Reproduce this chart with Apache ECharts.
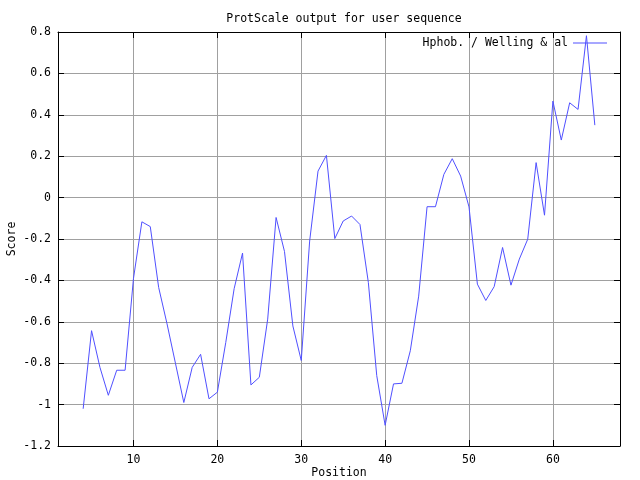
<!DOCTYPE html>
<html>
<head>
<meta charset="utf-8">
<script src="https://cdn.jsdelivr.net/npm/echarts@6/dist/echarts.min.js"></script>
<style>html,body{margin:0;padding:0;background:#fff}#c{width:640px;height:480px}</style>
</head>
<body>
<div id="c"></div>
<script>
var titleText = 'ProtScale output for user sequence';
var seriesName = 'Hphob. / Welling & al';
var xName = 'Position';
var yName = 'Score';
var positions = [4,5,6,7,8,9,10,11,12,13,14,15,16,17,18,19,20,21,22,23,24,25,26,27,28,29,30,31,32,33,34,35,36,37,38,39,40,41,42,43,44,45,46,47,48,49,50,51,52,53,54,55,56,57,58,59,60,61,62,63,64,65];
var scores = [-1.02,-0.643,-0.82,-0.955,-0.834,-0.834,-0.39,-0.117,-0.14,-0.434,-0.61,-0.80,-0.99,-0.82,-0.757,-0.972,-0.94,-0.70,-0.44,-0.268,-0.905,-0.868,-0.587,-0.096,-0.26,-0.62,-0.787,-0.21,0.128,0.204,-0.198,-0.113,-0.089,-0.13,-0.41,-0.86,-1.10,-0.90,-0.897,-0.74,-0.476,-0.044,-0.044,0.112,0.188,0.104,-0.045,-0.418,-0.497,-0.43,-0.241,-0.423,-0.297,-0.201,0.169,-0.085,0.466,0.278,0.458,0.426,0.782,0.35];
var xMin = 1, xMax = 68;
var yMin = -1.2, yMax = 0.8, yStep = 0.2;

var FONT = 'DejaVu Sans Mono';
var FS = 11.5;
var data = positions.map(function (p, i) { return [p, scores[i]]; });

var chart = echarts.init(document.getElementById('c'), null, {renderer: 'canvas'});
var xLabelFmt = function (v) { return (Math.abs(v % 10) < 1e-9) ? String(v) : ''; };
chart.setOption({
  animation: false,
  backgroundColor: '#ffffff',
  textStyle: {fontFamily: FONT, fontSize: FS, color: '#000'},
  title: {
    text: titleText, left: 339, top: 8, textAlign: 'center',
    textStyle: {fontFamily: FONT, fontSize: FS, fontWeight: 'normal', color: '#000'}
  },
  legend: {
    data: [{name: seriesName, icon: 'rect'}], right: 33, top: 37, align: 'right',
    itemWidth: 34, itemHeight: 1, padding: 0,
    textStyle: {fontFamily: FONT, fontSize: FS, color: '#000'}
  },
  grid: {left: 58, right: 20, top: 32, bottom: 34, containLabel: false, outerBoundsMode: 'none', show: false},
  xAxis: [{
    type: 'value', min: xMin, max: xMax, position: 'bottom',
    name: xName, nameLocation: 'middle', nameGap: 21, nameMoveOverlap: false,
    nameTextStyle: {fontFamily: FONT, fontSize: FS, color: '#000'},
    axisLine: {show: true, onZero: false, lineStyle: {color: '#000', width: 1}},
    axisTick: {show: true, inside: true, length: 6, lineStyle: {color: '#000'}},
    axisLabel: {show: true, margin: 8, color: '#000', fontFamily: FONT, fontSize: FS, formatter: xLabelFmt, showMinLabel: true, showMaxLabel: true},
    splitLine: {show: true, lineStyle: {color: '#a0a0a0', width: 1}}
  }, {
    type: 'value', min: xMin, max: xMax, position: 'top',
    axisLine: {show: true, onZero: false, lineStyle: {color: '#000', width: 1}},
    axisTick: {show: true, inside: true, length: 6, lineStyle: {color: '#000'}},
    axisLabel: {show: false},
    splitLine: {show: false}
  }],
  yAxis: [{
    type: 'value', min: yMin, max: yMax, interval: yStep, position: 'left',
    name: yName, nameLocation: 'middle', nameGap: 40, nameRotate: 90, nameMoveOverlap: false,
    nameTextStyle: {fontFamily: FONT, fontSize: FS, color: '#000'},
    axisLine: {show: true, onZero: false, lineStyle: {color: '#000', width: 1}},
    axisTick: {show: true, inside: true, length: 6, lineStyle: {color: '#000'}},
    axisLabel: {show: true, margin: 7, color: '#000', fontFamily: FONT, fontSize: FS,
      formatter: function (v) { return String(Math.round(v * 10) / 10); }},
    splitLine: {show: true, lineStyle: {color: '#a0a0a0', width: 1}}
  }, {
    type: 'value', min: yMin, max: yMax, interval: yStep, position: 'right',
    axisLine: {show: true, onZero: false, lineStyle: {color: '#000', width: 1}},
    axisTick: {show: true, inside: true, length: 6, lineStyle: {color: '#000'}},
    axisLabel: {show: false},
    splitLine: {show: false}
  }],
  series: [{
    name: seriesName, type: 'line', xAxisIndex: 0, yAxisIndex: 0,
    data: data, symbol: 'none', showSymbol: false,
    lineStyle: {color: '#5050ff', width: 1},
    itemStyle: {color: '#5050ff'}
  }]
});
</script>
</body>
</html>
